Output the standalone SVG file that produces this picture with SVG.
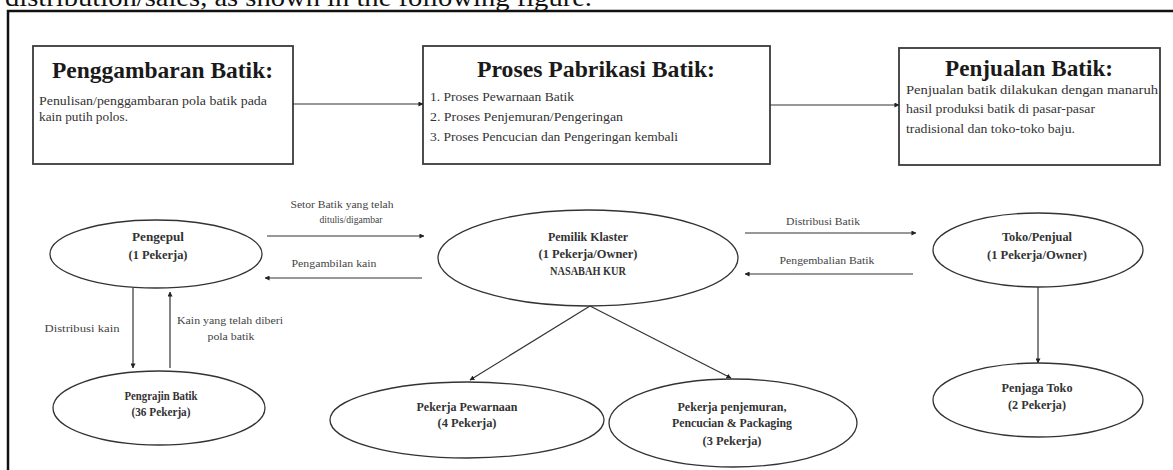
<svg xmlns="http://www.w3.org/2000/svg" width="1173" height="470" viewBox="0 0 1173 470">
<defs>
<marker id="ah" viewBox="0 0 6 6" refX="5.5" refY="3" markerWidth="5" markerHeight="5" markerUnits="userSpaceOnUse" orient="auto">
<path d="M0,0 L6,3 L0,6 Z" fill="#222"/>
</marker>
<style>
.box{fill:#fff;stroke:#3a3a3a;stroke-width:1.8}
.ell{fill:#fff;stroke:#333;stroke-width:1.3}
.title{font-family:"Liberation Serif",serif;font-weight:bold;font-size:23px;fill:#1a1a1a;text-anchor:middle}
.body{font-family:"Liberation Serif",serif;font-size:12px;fill:#333}
.nl{font-family:"Liberation Serif",serif;font-weight:bold;font-size:12px;fill:#333;text-anchor:middle}
.cl{font-family:"Liberation Serif",serif;font-size:11px;fill:#444;text-anchor:middle}
.con line{stroke:#333;stroke-width:1.2;marker-end:url(#ah)}
</style>
</defs>
<rect width="1173" height="470" fill="#fff"/>
<text x="5" y="6" font-family="Liberation Serif,serif" font-size="25" fill="#111" textLength="587" lengthAdjust="spacingAndGlyphs">distribution/sales, as shown in the following figure.</text>
<path d="M8,472 L8,11 L1175,11" fill="none" stroke="#111" stroke-width="2.5"/>

<g id="box-penggambaran">
<rect class="box" x="33" y="46" width="260" height="118"/>
<text class="title" x="162.5" y="78" textLength="221" lengthAdjust="spacingAndGlyphs">Penggambaran Batik:</text>
<text class="body" x="39" y="105" textLength="228" lengthAdjust="spacingAndGlyphs">Penulisan/penggambaran pola batik pada</text>
<text class="body" x="39" y="121" textLength="89" lengthAdjust="spacingAndGlyphs">kain putih polos.</text>
</g>
<g id="box-pabrikasi">
<rect class="box" x="423" y="46" width="347" height="118"/>
<text class="title" x="596" y="77" textLength="238" lengthAdjust="spacingAndGlyphs">Proses Pabrikasi Batik:</text>
<text class="body" x="430" y="101" textLength="144" lengthAdjust="spacingAndGlyphs">1. Proses Pewarnaan Batik</text>
<text class="body" x="430" y="121" textLength="193" lengthAdjust="spacingAndGlyphs">2. Proses Penjemuran/Pengeringan</text>
<text class="body" x="430" y="141" textLength="248" lengthAdjust="spacingAndGlyphs">3. Proses Pencucian dan Pengeringan kembali</text>
</g>
<g id="box-penjualan">
<rect class="box" x="899" y="48" width="261" height="117"/>
<text class="title" x="1029" y="76" font-size="22" textLength="168" lengthAdjust="spacingAndGlyphs">Penjualan Batik:</text>
<text class="body" x="906" y="94" textLength="252" lengthAdjust="spacingAndGlyphs">Penjualan batik dilakukan dengan manaruh</text>
<text class="body" x="906" y="113" textLength="189" lengthAdjust="spacingAndGlyphs">hasil produksi batik di pasar-pasar</text>
<text class="body" x="906" y="133" textLength="169" lengthAdjust="spacingAndGlyphs">tradisional dan toko-toko baju.</text>
</g>

<g id="node-pengepul">
<ellipse class="ell" cx="156" cy="254" rx="106" ry="34"/>
<text class="nl" x="158" y="241" textLength="52" lengthAdjust="spacingAndGlyphs">Pengepul</text>
<text class="nl" x="158" y="259" textLength="59" lengthAdjust="spacingAndGlyphs">(1 Pekerja)</text>
</g>
<g id="node-pengrajin">
<ellipse class="ell" cx="159" cy="408" rx="106" ry="37"/>
<text class="nl" x="161" y="400" textLength="73" lengthAdjust="spacingAndGlyphs">Pengrajin Batik</text>
<text class="nl" x="161" y="416" textLength="59" lengthAdjust="spacingAndGlyphs">(36 Pekerja)</text>
</g>
<g id="node-pemilik">
<ellipse class="ell" cx="588" cy="258" rx="150" ry="48"/>
<text class="nl" x="588" y="241" textLength="80" lengthAdjust="spacingAndGlyphs">Pemilik Klaster</text>
<text class="nl" x="588" y="258" textLength="99" lengthAdjust="spacingAndGlyphs">(1 Pekerja/Owner)</text>
<text class="nl" x="588" y="275" textLength="76" lengthAdjust="spacingAndGlyphs">NASABAH KUR</text>
</g>
<g id="node-pewarnaan">
<ellipse class="ell" cx="467" cy="420" rx="137" ry="38"/>
<text class="nl" x="467" y="411" textLength="101" lengthAdjust="spacingAndGlyphs">Pekerja Pewarnaan</text>
<text class="nl" x="467" y="427" textLength="59" lengthAdjust="spacingAndGlyphs">(4 Pekerja)</text>
</g>
<g id="node-penjemuran">
<ellipse class="ell" cx="733" cy="423" rx="124" ry="44"/>
<text class="nl" x="732" y="411" textLength="109" lengthAdjust="spacingAndGlyphs">Pekerja penjemuran,</text>
<text class="nl" x="732" y="427" textLength="120" lengthAdjust="spacingAndGlyphs">Pencucian &amp; Packaging</text>
<text class="nl" x="732" y="445" textLength="59" lengthAdjust="spacingAndGlyphs">(3 Pekerja)</text>
</g>
<g id="node-toko">
<ellipse class="ell" cx="1038" cy="250" rx="105" ry="37"/>
<text class="nl" x="1037" y="241" textLength="70" lengthAdjust="spacingAndGlyphs">Toko/Penjual</text>
<text class="nl" x="1037" y="259" textLength="100" lengthAdjust="spacingAndGlyphs">(1 Pekerja/Owner)</text>
</g>
<g id="node-penjaga">
<ellipse class="ell" cx="1038" cy="400" rx="105" ry="37"/>
<text class="nl" x="1037" y="392" textLength="71" lengthAdjust="spacingAndGlyphs">Penjaga Toko</text>
<text class="nl" x="1037" y="409" textLength="58" lengthAdjust="spacingAndGlyphs">(2 Pekerja)</text>
</g>

<g id="connectors" class="con">
<line x1="293" y1="104" x2="423" y2="104"/>
<line x1="770" y1="105" x2="899" y2="105"/>
<line x1="267" y1="236" x2="424" y2="236"/>
<line x1="422" y1="278" x2="265" y2="278"/>
<line x1="133" y1="288" x2="133" y2="368"/>
<line x1="170" y1="368" x2="170" y2="292"/>
<line x1="745" y1="233" x2="916" y2="233"/>
<line x1="913" y1="274" x2="745" y2="274"/>
<line x1="590" y1="306" x2="470" y2="380"/>
<line x1="590" y1="306" x2="731" y2="378"/>
<line x1="1038" y1="287" x2="1038" y2="363"/>
</g>
<g id="connector-labels">
<text class="cl" x="342" y="208" textLength="103" lengthAdjust="spacingAndGlyphs">Setor Batik yang telah</text>
<text class="cl" x="351" y="223" textLength="63" lengthAdjust="spacingAndGlyphs">ditulis/digambar</text>
<text class="cl" x="334" y="267" textLength="85" lengthAdjust="spacingAndGlyphs">Pengambilan kain</text>
<text class="cl" x="82" y="332" textLength="75" lengthAdjust="spacingAndGlyphs">Distribusi kain</text>
<text class="cl" x="230" y="324" textLength="106" lengthAdjust="spacingAndGlyphs">Kain yang telah diberi</text>
<text class="cl" x="231" y="340" textLength="47" lengthAdjust="spacingAndGlyphs">pola batik</text>
<text class="cl" x="823" y="225" textLength="74" lengthAdjust="spacingAndGlyphs">Distribusi Batik</text>
<text class="cl" x="827" y="264" textLength="95" lengthAdjust="spacingAndGlyphs">Pengembalian Batik</text>
</g>
</svg>
